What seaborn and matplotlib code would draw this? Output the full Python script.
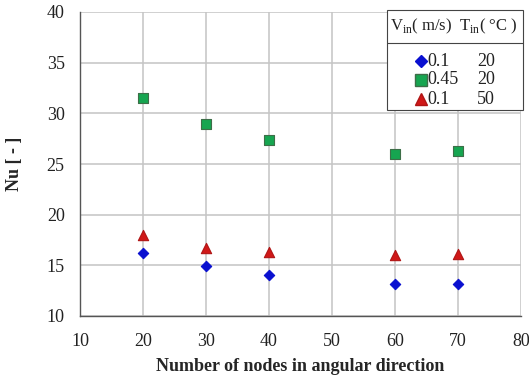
import matplotlib
matplotlib.use("Agg")
import matplotlib.pyplot as plt
import seaborn as sns
import pandas as pd
from matplotlib.lines import Line2D
from matplotlib.patches import Rectangle

nodes = [20, 30, 40, 60, 70]
nu_v01_t20 = [16.2, 14.9, 14.0, 13.2, 13.2]
nu_v045_t20 = [31.5, 28.9, 27.35, 26.0, 26.3]
nu_v01_t50 = [18.0, 16.7, 16.3, 16.0, 16.1]
series_v = ["0.1", "0.45", "0.1"]
series_t = ["20", "20", "50"]
series_names = ["0.1 / 20", "0.45 / 20", "0.1 / 50"]
xticks = [10, 20, 30, 40, 50, 60, 70, 80]
yticks = [10, 15, 20, 25, 30, 35, 40]

rows = []
for name, vals in zip(series_names, [nu_v01_t20, nu_v045_t20, nu_v01_t50]):
    for n, v in zip(nodes, vals):
        rows.append({"nodes": n, "Nu": v, "series": name})
df = pd.DataFrame(rows)

sns.set_style("white")
plt.rcParams["font.family"] = ["Liberation Serif", "DejaVu Serif"]
plt.rcParams["mathtext.fontset"] = "custom"
plt.rcParams["mathtext.rm"] = "Liberation Serif"

W, H = 529, 385
fig = plt.figure(figsize=(W / 100, H / 100), dpi=100)
ax = fig.add_axes([80 / W, 1 - 316 / H, (521 - 80) / W, (316 - 12) / H])

colors = {series_names[0]: "#0a10d0", series_names[1]: "#16a550", series_names[2]: "#d01818"}
markers = {series_names[0]: "D", series_names[1]: "s", series_names[2]: "^"}
sizes = {series_names[0]: 28, series_names[1]: 48, series_names[2]: 55}
edges = {series_names[0]: "#0a10d0", series_names[1]: "#3d6e48", series_names[2]: "#b01515"}

for name in series_names:
    sub = df[df["series"] == name]
    sns.scatterplot(data=sub, x="nodes", y="Nu", ax=ax, color=colors[name],
                    marker=markers[name], s=sizes[name], edgecolor=edges[name],
                    linewidth=0.8, legend=False, zorder=3)

ax.set_xlim(10, 80)
ax.set_ylim(10, 40)
ax.set_xticks(xticks)
ax.set_yticks(yticks)
ax.grid(True, color="#c4c4c4", linewidth=1.1)
ax.set_axisbelow(True)
for s in ["top", "right"]:
    ax.spines[s].set_visible(False)
for s in ["left", "bottom"]:
    ax.spines[s].set_color("#555555")
    ax.spines[s].set_linewidth(1.0)
ax.tick_params(axis="both", which="both", direction="out", length=5, width=1,
               color="#555555", labelsize=13, labelcolor="#222222")
ax.tick_params(axis="x", pad=7)
ax.tick_params(axis="y", pad=6)
ax.set_xlabel("Number of nodes in angular direction", fontsize=13, fontweight="bold", labelpad=6)
ax.set_ylabel("Nu [ - ]", fontsize=13, fontweight="bold", labelpad=17)

# table-like legend drawn in figure pixel coordinates
def fx(px):
    return px / W

def fy(py):
    return 1 - py / H

box_l, box_r, box_t, box_b = 387, 523, 10, 110
fig.add_artist(Rectangle((fx(box_l), fy(box_b)), fx(box_r) - fx(box_l), fy(box_t) - fy(box_b),
                         transform=fig.transFigure, facecolor="white", edgecolor="#444444",
                         linewidth=0.8, zorder=20))
fig.add_artist(Line2D([fx(box_l), fx(box_r)], [fy(43), fy(43)], transform=fig.transFigure,
                      color="#444444", linewidth=0.8, zorder=21))
fig.text(fx(454), fy(26), r"V$_{\mathrm{in}}$( m/s)  T$_{\mathrm{in}}$( °C )",
         ha="center", va="center", fontsize=12, color="#222222", zorder=22)
row_y = [61, 80, 99]
for name, v, t, ry in zip(series_names, series_v, series_t, row_y):
    fig.add_artist(Line2D([fx(421)], [fy(ry)], transform=fig.transFigure, linestyle="none",
                          marker=markers[name], color=colors[name], markeredgecolor=edges[name],
                          markersize=6 if markers[name] == "D" else 8, zorder=22))
    fig.text(fx(427), fy(ry), v, ha="left", va="center", fontsize=13, color="#222222", zorder=22)
    fig.text(fx(477), fy(ry), t, ha="left", va="center", fontsize=13, color="#222222", zorder=22)

fig.savefig("out.png", dpi=100)
